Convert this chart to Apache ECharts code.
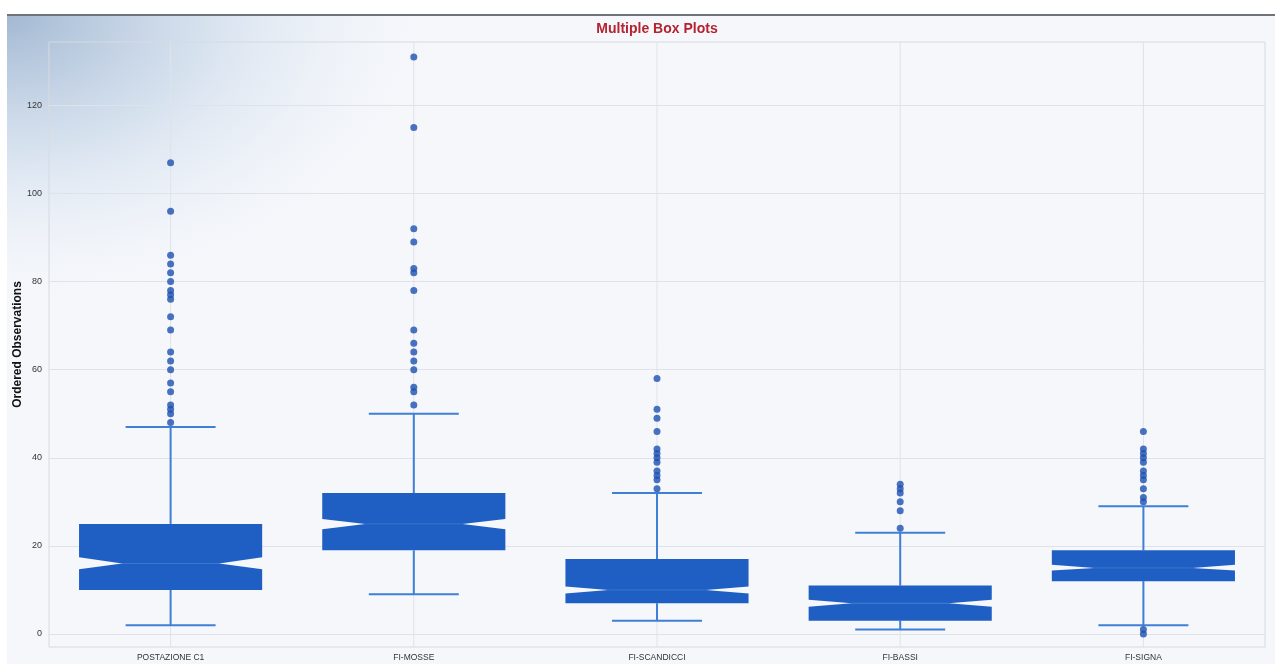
<!DOCTYPE html>
<html>
<head>
<meta charset="utf-8">
<title>Multiple Box Plots</title>
<script src="https://cdn.jsdelivr.net/npm/echarts@6/dist/echarts.min.js"></script>
<style>
  html, body { margin: 0; padding: 0; background: #ffffff; }
  body { width: 1275px; height: 664px; position: relative; overflow: hidden; }
  #topRule { position: absolute; left: 7px; top: 14px; width: 1268px; height: 2px; background: #6f737a; }
  #chart { position: absolute; left: 7px; top: 16px; width: 1268px; height: 648px; }
</style>
</head>
<body>
<div id="topRule"></div>
<div id="chart"></div>
<script>
// Stations
const categories = ['POSTAZIONE C1', 'FI-MOSSE', 'FI-SCANDICCI', 'FI-BASSI', 'FI-SIGNA'];

// Five-number summaries per station
const whiskerLow  = [2, 9, 3, 1, 2];
const quartile1   = [10, 19, 7, 3, 12];
const medians     = [16, 25, 10, 7, 15];
const quartile3   = [25, 32, 17, 11, 19];
const whiskerHigh = [47, 50, 32, 23, 29];

// Notch limits around the median
const notchLow  = [14.7, 23.8, 9.2, 6.2, 14.4];
const notchHigh = [17.4, 26.1, 10.8, 7.8, 15.7];

// Outlying observations per station
const outliers = [
  [107, 96, 86, 84, 82, 80, 78, 77, 76, 72, 69, 64, 62, 60, 57, 55, 52, 51, 50, 48],
  [131, 115, 92, 89, 83, 82, 78, 69, 66, 64, 62, 60, 56, 55, 52],
  [58, 51, 49, 46, 42, 41, 40, 39, 37, 36, 35, 33],
  [34, 33, 32, 30, 28, 24],
  [46, 42, 41, 40, 39, 37, 36, 35, 33, 31, 30, 1, 0]
];

const boxData = categories.map((c, i) => [
  i, whiskerLow[i], quartile1[i], medians[i], quartile3[i], whiskerHigh[i], notchLow[i], notchHigh[i]
]);
const outlierData = [];
outliers.forEach((list, i) => list.forEach(v => outlierData.push([i, v])));

const BOX_FILL = '#1f5fc3';
const WHISKER = '#3f7fd6';
const GRID_LINE = '#dfe3e9';

function renderNotchedBox(params, api) {
  const i = api.value(0);
  const lo = api.coord([i, api.value(1)]);
  const q1 = api.coord([i, api.value(2)]);
  const md = api.coord([i, api.value(3)]);
  const q3 = api.coord([i, api.value(4)]);
  const hi = api.coord([i, api.value(5)]);
  const nl = api.coord([i, api.value(6)]);
  const nh = api.coord([i, api.value(7)]);
  const band = api.size([1, 0])[0];
  const half = band * 0.3765;
  const cap = band * 0.185;
  const inset = half * 0.47;
  const cx = md[0];
  const cs = params.coordSys;
  const L = cx - half, R = cx + half;

  const line = (x1, y1, x2, y2, color, w) => ({
    type: 'line',
    shape: { x1, y1, x2, y2 },
    style: { stroke: color, lineWidth: w }
  });

  return {
    type: 'group',
    children: [
      // vertical grid line through the category
      line(cx, cs.y, cx, cs.y + cs.height, GRID_LINE, 1),
      // whiskers and caps
      line(cx, hi[1], cx, q3[1], WHISKER, 2),
      line(cx, q1[1], cx, lo[1], WHISKER, 2),
      line(cx - cap, hi[1], cx + cap, hi[1], WHISKER, 2),
      line(cx - cap, lo[1], cx + cap, lo[1], WHISKER, 2),
      // upper half of the notched box
      {
        type: 'polygon',
        shape: { points: [[L, q3[1]], [R, q3[1]], [R, nh[1]], [R - inset, md[1]], [L + inset, md[1]], [L, nh[1]]] },
        style: { fill: BOX_FILL }
      },
      // lower half of the notched box
      {
        type: 'polygon',
        shape: { points: [[L + inset, md[1]], [R - inset, md[1]], [R, nl[1]], [R, q1[1]], [L, q1[1]], [L, nl[1]]] },
        style: { fill: BOX_FILL }
      },
      // median
      line(L + inset, md[1], R - inset, md[1], '#3b76cf', 1)
    ]
  };
}

const chart = echarts.init(document.getElementById('chart'), null, { renderer: 'canvas' });

chart.setOption({
  backgroundColor: '#f5f7fb',
  animation: false,
  textStyle: { fontFamily: 'Liberation Sans, Arial, sans-serif' },
  graphic: {
    elements: [{
      type: 'rect',
      z: -10,
      left: 0, top: 0,
      scaleX: 1.5,
      originX: 0, originY: 0,
      shape: { x: 0, y: 0, width: 300, height: 300 },
      style: {
        fill: {
          type: 'radial', x: 0, y: 0, r: 1,
          colorStops: [
            { offset: 0, color: 'rgba(163,185,211,1)' },
            { offset: 0.45, color: 'rgba(208,221,236,0.8)' },
            { offset: 1, color: 'rgba(245,247,251,0)' }
          ]
        }
      },
      silent: true
    }]
  },
  title: {
    text: 'Multiple Box Plots',
    left: 650,
    textAlign: 'center',
    top: 6,
    padding: 0,
    textStyle: { color: '#b42330', fontSize: 14, fontWeight: 'bold', fontFamily: 'Liberation Sans, Arial, sans-serif' }
  },
  grid: {
    left: 42, right: 10, top: 26, bottom: 17,
    containLabel: false,
    outerBoundsMode: 'none',
    show: true,
    borderColor: '#d6dae0',
    borderWidth: 1,
    backgroundColor: 'transparent'
  },
  xAxis: {
    type: 'category',
    data: categories,
    boundaryGap: true,
    axisLine: { show: false },
    axisTick: { show: false },
    splitLine: { show: false },
    axisLabel: {
      margin: 6,
      fontSize: 8.5,
      color: '#333333',
      fontFamily: 'Liberation Sans, Arial, sans-serif'
    }
  },
  yAxis: {
    type: 'value',
    min: -2.95,
    max: 134.4,
    splitNumber: 7,
    name: 'Ordered Observations',
    nameLocation: 'middle',
    nameRotate: 90,
    nameGap: 25,
    nameMoveOverlap: false,
    nameTextStyle: { fontSize: 12, fontWeight: 'bold', color: '#111111' },
    axisLine: { show: false },
    axisTick: { show: false },
    axisLabel: {
      showMinLabel: false,
      showMaxLabel: false,
      margin: 7,
      fontSize: 9,
      color: '#333333',
      fontFamily: 'Liberation Sans, Arial, sans-serif',
      formatter: v => (Math.abs(v % 20) < 1e-6 ? String(v) : '')
    },
    splitLine: {
      show: true,
      showMinLine: false,
      showMaxLine: false,
      lineStyle: { color: GRID_LINE, width: 1 }
    }
  },
  series: [
    {
      type: 'custom',
      name: 'box',
      renderItem: renderNotchedBox,
      encode: { x: 0, y: [1, 2, 3, 4, 5] },
      data: boxData,
      z: 2
    },
    {
      type: 'scatter',
      name: 'outliers',
      data: outlierData,
      symbol: 'circle',
      symbolSize: 7,
      itemStyle: { color: '#1d50b0' },
      z: 3
    }
  ]
});
</script>
</body>
</html>
